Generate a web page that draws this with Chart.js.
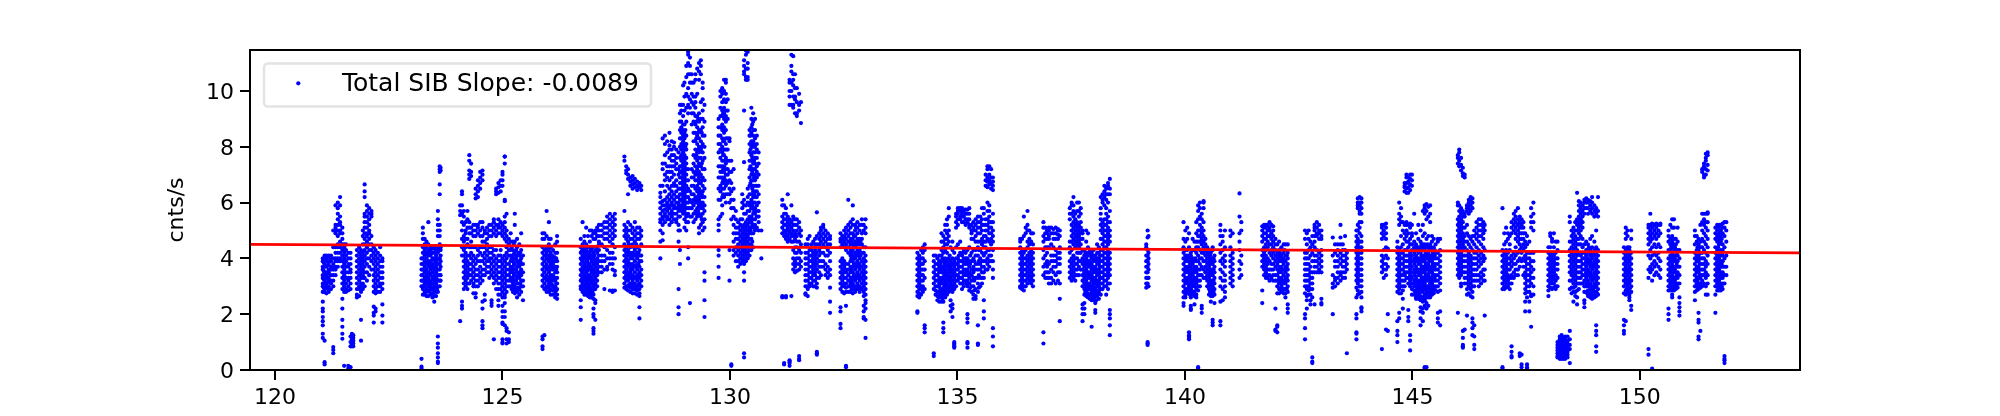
<!DOCTYPE html>
<html>
<head>
<meta charset="utf-8">
<script src="https://cdn.jsdelivr.net/npm/chart.js@4"></script>
<style>
  body { margin: 0; background: #fff; }
  canvas { display: block; }
</style>
</head>
<body>
<canvas id="sibChart" width="2000" height="416"></canvas>
<script>
const obs121 = [
[121.05,2.8,3.0,3.1,3.3,3.4,3.6,3.7,3.9,4.0,2.45,2.2,2.1,1.9,1.75,1.6,1.3,1.15],
[121.09,2.8,2.9,3.1,3.2,3.4,3.5,3.7,3.8,4.0,4.1,.2,.28,1.05],
[121.13,2.75,3.0,3.1,3.3,3.4,3.5,3.7,3.9,4.0,4.1],
[121.18,2.8,3.0,3.2,3.3,3.5,3.6,3.8,3.9,4.1],
[121.23,2.9,3.1,3.2,3.4,3.6,3.7,3.9,4.0,4.1],
[121.28,3.0,3.2,3.4,3.6,3.7,3.8,4.0,.6,.72,.82,4.4,5.0],
[121.33,3.4,3.6,3.7,3.9,4.0,4.2,4.4,4.9,5.0,5.1,5.2,5.9],
[121.38,3.7,3.9,4.0,4.2,4.4,4.5,4.8,5.0,5.2,5.4,5.6,5.8,6.0],
[121.43,3.9,4.0,4.2,4.4,4.6,4.9,5.0,5.2,5.3,5.5,5.9,6.2],
[121.48,2.9,3.1,3.3,3.5,3.7,3.9,4.1,4.3,4.5,4.7,4.9,5.1,2.55,2.2,1.8,1.55,1.3,1.12],
[121.52,2.8,3.0,3.2,3.4,3.6,3.8,4.0,4.2,4.4,4.5,.15],
[121.56,2.8,2.9,3.1,3.3,3.5,3.7,3.9,4.1,4.3,4.5],
[121.61,2.85,3.0,3.2,3.3,3.5,3.7,3.8,4.0,4.2,.15,.05],
[121.66,2.9,3.1,3.3,3.5,3.6,3.8,4.0,4.2,.1,.85,1.0,1.2],
[121.69,.85,.9,1.0,1.1,1.2,1.3],
[121.72,.85,.95,1.05,1.15,1.25],
[121.8,2.6,2.7,2.9,3.1,3.3,3.5,3.7,3.9,4.1,4.3],
[121.85,2.65,2.9,3.0,3.2,3.4,3.6,3.8,4.0,4.2,4.4],
[121.89,2.8,3.0,3.1,3.3,3.5,3.7,3.9,4.1,4.3,1.05,1.8],
[121.93,2.9,3.1,3.3,3.4,3.6,3.8,4.0,4.2,4.5,4.8,5.0],
[121.97,3.0,3.3,3.5,3.7,3.9,4.1,4.3,4.5,4.7,4.9,5.1,5.3,5.5,5.6,6.65,6.4,6.2],
[122.02,3.2,3.5,3.8,4.0,4.2,4.4,4.6,4.8,4.9,5.1,5.3,5.5,5.7,5.9],
[122.07,3.4,3.7,4.0,4.3,4.5,4.7,4.9,5.0,5.2,5.4,5.6,5.8],
[122.12,3.6,3.9,4.1,4.3,4.5,4.8,5.5,5.6,5.7],
[122.17,2.8,3.0,3.2,3.4,3.6,3.8,4.0,4.2,4.4,2.27,2.05,1.95,1.7],
[122.21,2.75,2.9,3.1,3.3,3.5,3.7,3.9,4.1,4.3,2.2,2.1],
[122.26,2.8,3.0,3.2,3.4,3.6,3.8,4.0,4.2],
[122.31,2.8,3.0,3.1,3.3,3.5,3.7,3.9,4.1,4.4],
[122.36,2.9,3.1,3.3,3.5,3.7,3.9,4.0,2.35,1.95,1.7],
];
const obs123 = [
[123.22,3.0,3.2,3.4,3.6,3.8,4.0,.4,.12,.05],
[123.25,2.7,2.9,3.0,3.2,3.4,3.6,3.8,4.0,4.2,4.4,4.7,4.9,5.1],
[123.29,2.7,2.8,3.0,3.1,3.3,3.5,3.7,3.9,4.1,4.3,4.5,4.7],
[123.33,2.65,2.8,2.9,3.1,3.3,3.4,3.6,3.8,4.0,4.2,4.4,4.6],
[123.37,2.65,2.85,3.0,3.2,3.3,3.5,3.7,3.9,4.1,4.3,4.5,5.3],
[123.42,2.7,2.9,3.0,3.2,3.4,3.6,3.7,3.9,4.1,4.3,4.4],
[123.46,2.6,2.75,2.9,3.1,3.3,3.5,3.7,3.8,4.0,4.2,4.4],
[123.5,2.45,2.65,2.8,3.0,3.2,3.4,3.6,3.8,4.0,4.2,4.4],
[123.54,2.65,2.8,3.0,3.1,3.3,3.5,3.7,3.9,4.1,4.3],
[123.58,2.8,3.0,3.2,3.4,3.6,3.8,4.0,4.2,4.4,4.8,5.0,5.2,5.4,5.7,1.2,.95,.8,.6,.45,.3,.25],
[123.62,3.0,3.2,3.4,3.6,3.8,4.0,4.3,4.5,4.8,5.0,5.2,6.3,6.65,7.1,7.2,7.3],
[123.64,3.2,3.4,3.7,3.9,4.1,4.3,4.4,7.15,7.25],
];
const obs124 = [
[124.07,5.55,5.7,5.9,1.75],
[124.11,4.1,4.4,4.7,5.0,5.3,5.6,5.9,6.3,6.4,2.3,2.2,2.45],
[124.15,2.9,3.1,3.3,3.5,3.7,3.9,4.1,4.3,4.6,4.8,5.2,5.5,5.7],
[124.19,3.0,3.2,3.4,3.6,3.8,4.0,4.2,4.4,4.7,4.9,5.0,5.3],
[124.23,2.9,3.1,3.3,3.5,3.7,3.9,4.1,4.5,4.7,5.1,5.4,5.7],
[124.27,3.1,3.4,3.6,3.8,4.1,4.4,4.9,5.1,5.3,6.85,7.0,7.15,7.5,7.7],
[124.31,3.2,3.4,3.6,3.8,4.0,4.2,4.4,4.6,4.9,5.1,6.95,7.1,7.4],
[124.36,2.75,3.0,3.1,3.3,3.5,3.7,3.9,4.1,4.4,4.8,5.0,5.2],
[124.41,2.6,2.75,3.0,3.2,3.4,3.6,3.8,4.0,4.4,4.8,5.0,5.2,6.15,6.3,6.5],
[124.46,3.0,3.2,3.4,3.6,3.9,4.1,4.3,4.9,5.1,5.2,6.2,6.4,6.6,6.8],
[124.51,3.1,3.3,3.5,3.7,3.9,4.2,4.4,4.8,5.0,5.3,6.5,6.7,6.9,7.1],
[124.56,3.2,3.4,3.6,3.9,4.1,4.4,4.6,4.8,5.1,5.3,6.8,7.0,7.15,2.45,2.2,1.75,1.6,1.5],
[124.61,3.4,3.6,3.8,4.0,4.2,4.4,4.6,4.9,5.0,2.7,2.5],
[124.66,3.5,3.7,3.9,4.1,4.3,4.5,4.7,4.9,5.1],
[124.71,3.3,3.5,3.7,3.9,4.0,4.2,4.4,4.8,5.0,5.2],
[124.76,3.4,3.6,3.8,4.0,4.2,4.4,4.8,5.0,5.2,2.5,2.4,2.3],
[124.81,3.1,3.3,3.5,3.7,3.9,4.1,4.3,4.9,5.1,5.3,5.4,1.1],
[124.86,2.9,3.2,3.4,3.6,3.8,4.0,4.3,4.8,5.0,5.2,6.3,6.4,6.5],
[124.91,2.7,2.9,3.1,3.3,3.5,3.7,3.9,4.1,4.9,5.1,5.2,5.4,6.35,6.55,6.7,2.5,2.3],
[124.96,2.7,2.9,3.1,3.3,3.5,3.7,3.9,4.1,4.3,4.9,5.1,5.3,6.4,6.6,6.8],
[125.0,2.6,2.8,3.0,3.2,3.4,3.6,3.8,4.0,4.8,5.0,5.2,6.6,6.8,7.0,7.1,2.3,2.1,1.9,1.7,1.65,1.1,1.0,.95],
[125.05,2.7,2.9,3.1,3.3,3.5,3.7,3.9,4.1,4.7,4.9,5.1,5.3,5.5,6.05,6.1,7.4,7.65,7.65,2.6,2.4,2.1,1.9,1.6],
[125.09,2.8,3.0,3.2,3.4,3.6,3.8,4.0,4.2,4.4,4.6,4.8,5.0,5.6,1.4,1.5,1.1,.95],
[125.14,3.0,3.2,3.4,3.6,3.8,4.1,4.3,4.5,4.7,1.35,1.1,1.0],
[125.18,3.0,3.2,3.3,3.5,3.7,3.9,4.1,4.3,4.6,4.9],
[125.23,2.8,3.0,3.1,3.3,3.5,3.7,3.9,4.1,4.3,4.6],
[125.27,2.75,2.9,3.0,3.2,3.4,3.6,3.8,4.0,4.2,4.6,5.2,5.6],
[125.32,2.6,2.8,2.9,3.1,3.3,3.5,3.7,3.9,4.1,4.4,4.7],
[125.37,2.7,2.9,3.1,3.3,3.5,3.7,3.9,4.1,4.5],
[125.41,2.8,3.0,3.2,3.4,3.6,3.8,4.0,4.3,4.9],
[125.45,2.5,3.0,3.2,3.5,3.8,4.1],
[125.88,3.0,3.2,3.4,3.6,3.8,4.0,4.2,4.4,4.9,4.7,1.2,1.1,.85,.75],
[125.92,2.9,3.1,3.3,3.5,3.7,3.9,4.1,4.3,4.7,4.9,1.25],
[125.97,2.8,3.0,3.2,3.4,3.6,3.8,4.0,4.2,4.4,4.8,5.7],
[126.02,2.8,3.0,3.1,3.3,3.5,3.7,3.9,4.1,4.3,4.5,4.7,5.3],
[126.06,2.7,2.9,3.1,3.2,3.4,3.6,3.8,4.0,4.2,4.4,4.7],
[126.11,2.7,2.85,3.0,3.2,3.4,3.6,3.8,4.0,4.3],
[126.16,2.6,2.75,3.0,3.2,3.3,3.5,3.7,3.9,4.2,4.5],
[126.2,2.55,2.7,2.9,3.1,3.3,3.5,3.7,3.9,4.2,4.6,4.8],
[126.72,2.5,2.9,3.0,3.2,3.4,3.6,3.8,4.0,4.2,4.4,4.7,2.25,1.8],
[126.76,2.8,3.0,3.1,3.3,3.5,3.7,3.9,4.1,4.3,4.5,5.3],
[126.8,2.7,2.9,3.0,3.2,3.4,3.6,3.8,4.0,4.2,4.4,4.6,4.8],
[126.84,2.7,2.8,3.0,3.1,3.3,3.5,3.7,3.9,4.1,4.3,4.5,5.1],
[126.88,2.65,2.8,2.9,3.1,3.3,3.4,3.6,3.8,4.0,4.2,4.4,4.8],
[126.92,2.6,2.8,3.0,3.2,3.4,3.6,3.8,4.0,4.2,4.4,4.6,5.0],
[126.96,2.6,2.7,2.9,3.1,3.3,3.5,3.7,3.9,4.1,4.3,4.8,5.0],
[127.0,2.55,2.7,2.9,3.0,3.2,3.4,3.6,3.8,4.0,4.2,4.7,4.9,2.2,2.0,1.9,1.5,1.4,1.3],
[127.04,2.9,3.1,3.3,3.5,3.7,3.9,4.3,4.7,4.9,5.0,2.5,2.4,1.8],
[127.08,3.2,3.4,3.6,3.8,4.0,4.2,4.4,4.8,5.0,5.1,3.0],
[127.12,3.5,3.7,3.9,4.1,4.3,4.5,4.8,5.0,5.2,4.6],
[127.18,3.5,3.7,3.9,4.1,4.5,4.8,5.0,5.2],
[127.24,3.6,3.9,4.1,4.4,4.7,4.9,5.1,5.3,2.9],
[127.3,3.6,3.7,4.0,4.3,4.7,4.9,5.1,5.3,5.5],
[127.36,3.8,4.0,4.2,4.6,4.8,5.0,5.2,5.4,5.6,2.85],
[127.42,3.6,3.8,4.0,4.2,4.5,4.7,4.9,5.1,5.3,5.5,2.85,2.8],
[127.47,3.4,3.55,4.0,4.4,4.8,5.0,5.2,5.4,5.6,2.85],
];
const obs127 = [
[127.68,2.95,3.1,3.3,3.5,3.7,3.9,4.1,4.3,4.5,4.8,5.0,5.2,5.7,7.65,7.5],
[127.72,2.9,3.0,3.2,3.4,3.6,3.8,4.0,4.2,4.4,4.7,4.9,5.1,7.3,7.15,7.05],
[127.76,2.85,3.0,3.2,3.3,3.5,3.7,3.9,4.1,4.3,4.6,4.8,5.0,5.3,7.2,7.0,6.85,6.3],
[127.81,2.8,2.95,3.1,3.3,3.5,3.6,3.8,4.0,4.2,4.4,4.7,5.0,5.2,6.9,6.75,6.6],
[127.86,2.75,2.9,3.1,3.2,3.4,3.6,3.8,4.0,4.2,4.5,4.7,4.9,5.1,6.95,6.8,6.65,6.5],
[127.91,2.75,2.9,3.1,3.3,3.5,3.7,3.9,4.1,4.3,4.6,4.8,5.0,5.3,6.85,6.7,6.55],
[127.96,2.7,2.85,3.0,3.2,3.4,3.6,3.8,4.0,4.2,4.4,4.7,4.9,5.1,6.75,6.6,6.45],
[128.01,2.75,2.9,3.1,3.3,3.5,3.7,3.9,4.1,4.3,4.7,4.9,5.1,2.65,2.25,1.85,6.7,6.55],
[128.05,3.0,3.2,3.4,3.6,3.9,4.1,4.5,4.8,5.0,6.6,6.45],
];
const obs128 = [
[128.47,4.0,4.6,5.0,5.3,5.4,5.6,5.8,6.0,6.2,6.35,6.6],
[128.52,4.65,4.9,5.2,5.4,5.5,5.7,5.9,6.05,6.6,7.2,7.4,8.3],
[128.57,5.3,5.5,5.6,5.75,5.9,6.1,6.4,6.8,7.0,7.4,7.7,8.1,8.4],
[128.62,5.4,5.5,5.7,5.8,5.9,6.0,6.2,6.6,6.9,7.1,7.3,7.8,8.2],
[128.67,5.2,5.4,5.6,5.8,5.9,6.1,6.3,6.5,6.8,7.1,7.3,7.6,7.9,8.05,8.5],
[128.72,5.3,5.5,5.6,5.7,5.9,6.0,6.2,6.4,6.6,6.9,7.1,7.3,7.5,7.7,7.9,8.2],
[128.77,5.4,5.6,5.8,5.9,6.1,6.3,6.6,6.7,7.0,7.3,7.5,7.7,8.0,8.15],
[128.82,5.3,5.4,5.6,5.8,6.0,6.2,6.4,6.6,6.8,7.2,7.4,7.6,7.9],
[128.87,4.6,5.0,5.2,5.5,5.7,5.9,6.0,6.2,6.5,7.0,7.2,7.8,2.9,2.25,2.0],
[128.9,3.8,4.3,5.0,5.5,5.8,6.1,6.3,6.5,6.7,6.9,7.1,7.3,7.6,8.0,8.3,8.6,8.9,9.2,9.5],
[128.93,5.7,5.9,6.1,6.3,6.5,6.7,6.9,7.1,7.3,7.5,7.7,7.9,8.1,8.3,8.5,8.7,8.9,9.3,9.5],
[128.97,5.6,5.8,6.0,6.2,6.4,6.6,6.8,7.0,7.2,7.4,7.6,7.8,8.0,8.2,8.4,8.6,8.8,9.1,9.5,10.2],
[129.0,5.1,5.4,5.7,5.9,6.1,6.3,6.5,6.7,6.9,7.1,7.3,7.5,7.7,7.9,8.1,8.3,8.5,8.8,9.3,9.8,10.3],
[129.04,5.0,5.3,5.5,5.8,6.0,6.2,6.4,6.6,6.8,7.0,7.2,7.4,7.6,7.9,8.1,8.4,8.9,9.4,9.9,10.5,10.9],
[129.08,4.0,4.4,5.3,5.6,5.8,6.0,6.2,6.5,6.8,7.2,9.2,9.5,9.8,10.1,10.6,11.0,11.3,11.4],
[129.12,2.4,5.5,5.8,6.1,6.4,9.4,9.7,10.3,10.6,10.9,11.2],
[129.16,5.5,5.8,6.0,6.3,6.6,6.9,7.2,8.8,9.2,9.6,9.9,10.3,10.6],
[129.2,5.3,5.6,5.9,6.1,6.3,6.6,6.9,7.1,7.4,7.7,8.2,8.5,8.9,9.2,9.5,9.8,10.3],
[129.24,5.4,5.7,6.0,6.2,6.5,6.8,7.0,7.3,7.6,7.9,8.2,8.5,8.8,9.1,9.4,9.6,9.8,10.4,10.6],
[129.28,5.5,5.8,6.0,6.2,6.4,6.6,6.8,7.0,7.2,7.5,7.8,8.1,8.4,8.7,9.1,9.9,10.8],
[129.32,4.9,5.1,5.6,5.9,6.1,6.3,6.5,6.7,6.9,7.1,7.4,7.6,7.8,8.0,8.3,8.6,8.9,9.2,10.4,10.7,11.0],
[129.36,5.2,5.5,5.8,6.0,6.2,6.4,6.7,7.0,7.3,7.6,7.9,8.2,8.6,9.0,9.6,10.6,10.9,11.1],
[129.4,5.0,5.3,5.6,5.8,6.0,6.2,6.4,6.6,6.9,7.2,7.5,7.8,8.1,8.4,8.7,9.0,9.3,9.7,10.1,10.3],
[129.44,5.1,5.4,5.7,5.9,6.2,6.5,6.8,7.2,7.6,8.0,8.4,8.9,9.5,3.2,3.5,1.9,2.5],
[129.75,5.0,5.2,5.4,6.1,6.5,6.9,7.3,7.8,8.1,8.4,8.7,9.0,4.3,4.1,3.7,3.3],
[129.79,5.5,6.1,6.4,6.6,6.9,7.1,7.3,7.6,7.9,8.1,8.4,8.7,9.1,9.4,9.8,10.0],
[129.83,5.6,5.9,6.2,6.5,6.7,6.9,7.1,7.3,7.5,7.8,8.0,8.3,8.6,8.8,9.1,9.3,9.6,9.9,10.1],
[129.87,6.2,6.5,6.7,6.9,7.1,7.3,7.5,7.7,7.9,8.2,8.5,8.7,9.0,9.2,9.4,9.7,10.0,10.4],
[129.91,6.0,6.3,6.6,6.8,7.0,7.2,7.4,7.6,7.9,8.1,8.3,8.6,8.9,9.1,9.3,9.6,9.9,10.3,10.4],
[129.95,6.3,6.7,7.0,7.2,7.5,7.9,8.3,9.0,9.3,9.7],
[129.99,6.0,6.3,6.5,6.8,7.1,7.5,8.2,8.3,4.3,3.2],
[130.03,5.4,5.8,6.1,6.4,6.7,7.1,7.5,.2,.15],
[130.08,4.1,4.3,4.6,4.9,5.2,5.5,5.8,6.1,6.5,7.2],
[130.13,3.9,4.2,4.4,4.7,4.9,5.1,5.4,5.7],
[130.18,3.7,3.9,4.1,4.3,4.5,4.7,4.9,5.1,5.3],
];
const obs130 = [
[130.23,3.8,4.0,4.2,4.4,4.6,4.8,5.0,5.2,5.4],
[130.27,3.9,4.1,4.3,4.5,4.7,4.9,5.1,5.4,5.8,6.0,6.3],
[130.31,3.2,3.5,3.8,4.0,4.2,4.4,4.6,4.8,5.0,5.2,5.6,5.9,6.1,.6,.45,10.6,10.7,10.9,11.1,9.3,7.45],
[130.35,3.9,4.1,4.3,4.5,4.7,4.9,5.1,5.3,5.6,5.9,10.4,10.5,10.8,11.3,11.45],
[130.39,4.0,4.2,4.4,4.6,4.8,5.0,5.2,5.4,5.7,6.0,6.2,6.5,10.4,10.5,10.8,11.0,11.4],
[130.43,4.1,4.3,4.5,4.7,4.9,5.1,5.3,5.5,5.7,5.9,6.3,6.6,6.9,7.2,7.5,7.8,8.1,8.4,8.6],
[130.47,4.3,4.5,4.7,4.9,5.1,5.3,5.5,5.8,6.1,6.3,6.6,6.8,7.0,7.2,7.5,7.7,8.0,8.2,8.5,8.7,9.0,9.4],
[130.51,4.4,4.9,5.2,5.4,5.6,5.8,6.0,6.2,6.4,6.6,6.8,7.0,7.2,7.4,7.6,7.8,8.0,8.2,8.4,8.6,8.9,9.2],
[130.55,5.0,5.2,5.4,5.6,5.8,6.0,6.2,6.4,6.6,6.8,7.0,7.2,7.4,7.6,7.8,8.0,8.3,8.6,9.0],
[130.59,5.1,5.5,5.7,5.9,6.2,6.4,6.6,6.9,7.1,7.3,7.6,7.9,8.1,8.4],
[130.63,5.0,5.3,5.5,5.7,6.0,6.3,6.6,7.0,7.4,7.8],
[130.69,5.0,4.0],
[131.15,4.9,5.1,5.3,5.5,5.9,6.1,2.65,2.6],
[131.19,4.8,5.0,5.2,5.4,5.6,5.9,.2,.25],
[131.23,4.7,4.9,5.0,5.2,5.4,5.6,5.8,2.65,2.6],
[131.27,4.6,4.8,5.0,5.1,5.3,5.5,6.3],
[131.31,4.7,4.9,5.0,5.2,5.4,9.5,9.8,10.0,10.3,10.4,.3,.25,.15,.35],
[131.35,4.6,4.8,4.9,5.1,5.3,5.9,11.3,10.9,10.7,10.3,10.0,9.5,2.65],
[131.39,3.6,3.8,4.0,4.3,4.6,4.8,5.0,5.2,5.4,5.5,11.25,10.6,10.4,10.2,9.8,9.5,9.4],
[131.43,3.5,3.7,3.9,4.2,4.4,4.7,4.9,5.2,5.4,10.6,10.1,9.8,9.7,9.2],
[131.47,3.55,3.8,4.0,4.2,4.4,4.6,4.8,5.0,5.2,5.4,10.1,9.6,9.1,9.2],
[131.52,3.6,3.8,4.0,4.3,4.6,4.9,5.1,5.3,9.9,9.5,9.3,.5,.35,.4],
[131.56,3.7,3.9,4.2,4.5,4.8,5.0,9.6,8.85],
[131.66,3.0,3.2,3.4,3.6,3.8,4.0,4.2,4.5,2.75,2.7],
[131.71,2.9,3.0,3.2,3.4,3.6,3.8,4.0,4.2,4.5,4.7,2.65],
[131.75,3.0,3.1,3.3,3.5,3.7,3.9,4.1,4.3,4.8],
[131.79,3.1,3.3,3.5,3.7,3.9,4.1,4.3,4.5],
[131.83,3.0,3.2,3.4,3.6,3.8,4.0,4.2,4.6],
[131.87,3.0,3.2,3.4,3.5,3.7,3.9,4.1,4.3,4.5,4.7],
[131.91,2.95,3.1,3.3,3.6,3.8,4.0,4.2,4.5,4.8,5.65,.65,.55,.6],
[131.96,3.3,3.5,3.7,3.9,4.1,4.3,4.5,4.7,4.9],
[132.0,3.4,3.7,3.9,4.2,4.4,4.6,4.8,5.0,5.1],
[132.05,3.7,3.9,4.2,4.5,4.7,4.9,5.1,5.2],
[132.1,3.4,3.6,3.8,4.1,4.4,4.6,4.8,5.0],
[132.15,3.3,3.5,3.7,4.1,4.3,4.5,4.7,4.9],
[132.2,3.4,3.6,3.9,4.2,4.5,4.7,4.8,2.95,2.05,2.45],
[132.43,2.9,3.1,3.3,3.5,3.7,3.9,4.4,4.6,4.7,4.9,2.25,2.1,1.5,1.65],
[132.47,2.8,3.0,3.2,3.4,3.6,3.8,4.0,4.5,4.7,4.8],
[132.51,2.75,3.0,3.1,3.3,3.5,3.7,3.9,4.4,4.6,4.8,5.0],
[132.55,2.8,2.95,3.1,3.3,3.5,3.6,3.8,4.3,4.5,4.7,4.9,5.1,.15,.1,2.3],
[132.6,2.8,3.0,3.2,3.4,3.6,3.8,4.2,4.4,4.6,4.8,5.0,5.2,6.1],
[132.65,2.8,3.0,3.1,3.3,3.5,3.7,3.9,4.1,4.3,4.5,4.7,4.9,5.1,5.3],
[132.7,2.75,2.9,3.1,3.3,3.5,3.7,3.9,4.1,4.3,4.5,4.7,4.9,5.2,5.4,5.9],
[132.75,2.8,3.0,3.2,3.4,3.6,3.8,4.0,4.2,4.4,4.6,4.8,5.0,5.2],
[132.8,2.9,3.1,3.3,3.5,3.7,3.9,4.1,4.3,4.5,4.7,4.9,5.1,5.3],
[132.85,2.8,3.0,3.2,3.4,3.6,3.8,4.0,4.3,4.5,4.7,5.0,5.2],
[132.9,2.9,3.1,3.3,3.5,3.7,3.9,4.2,4.5,4.7,4.9,5.2,5.4],
[132.94,2.65,2.8,3.0,3.2,3.4,3.6,3.8,4.0,4.2,4.4,5.0,5.2,2.3,2.1,1.85,1.9],
[132.98,2.5,2.7,2.9,3.1,3.3,3.5,3.7,3.9,4.1,4.4,4.9,5.1,5.4,2.4,2.2,1.8,1.15],
];
const obs134 = [
[134.12,2.65,2.8,3.0,3.2,3.4,3.6,3.8,4.0,4.2,2.1,2.05],
[134.16,2.6,2.75,2.9,3.1,3.3,3.5,3.7,3.9,4.1],
[134.2,2.7,2.9,3.0,3.2,3.4,3.6,3.8,4.0,4.3],
[134.24,2.8,3.0,3.2,3.4,3.6,3.8,4.0,4.2,4.4],
[134.28,2.9,3.3,3.6,3.9,4.3,4.5,1.6,1.5,1.35],
[134.48,2.9,3.1,3.3,3.5,3.7,3.9,4.1,.6,.5],
[134.52,2.7,2.85,3.0,3.2,3.4,3.6,3.8,4.1],
[134.56,2.5,2.65,2.8,3.0,3.2,3.4,3.6,3.8,4.0],
[134.6,2.45,2.6,2.8,3.0,3.1,3.3,3.5,3.7,3.9,4.1],
[134.65,2.45,2.65,2.9,3.1,3.3,3.5,3.7,3.9,4.1,4.3,4.6,4.9],
[134.69,2.45,2.7,2.9,3.1,3.3,3.5,3.7,3.9,4.2,4.4,4.6,4.8,1.7,1.5,1.35],
[134.73,2.6,2.8,3.0,3.2,3.4,3.6,3.8,4.0,4.3,4.5,4.7,5.0,5.2],
[134.77,2.7,2.9,3.1,3.3,3.5,3.7,3.9,4.2,4.5,4.7,4.9,5.2,5.4],
[134.81,2.8,3.0,3.2,3.4,3.6,3.8,4.0,4.6,4.8,5.0,5.5,5.8],
[134.85,2.85,3.0,3.1,3.3,3.5,3.7,3.9,4.4,2.5,2.1,2.3],
[134.89,2.8,3.0,3.2,3.4,3.6,3.8,4.0,4.3,4.6,2.2,1.9,2.35],
[134.93,2.9,3.1,3.3,3.5,3.7,3.9,4.2,1.0,.9,.8,.85,.95],
[134.97,3.0,3.2,3.4,3.6,3.8,4.0,4.4,5.1,5.3,5.5,5.6],
[135.01,3.2,3.4,3.6,3.8,4.0,4.5,5.2,5.4,5.6,5.7,5.8],
[135.06,3.1,3.3,3.5,3.7,3.9,4.2,4.6,5.4,5.5,5.7,5.8],
[135.1,2.9,3.1,3.3,3.5,3.7,3.9,4.1,5.3,5.5,5.6,5.8],
[135.14,3.0,3.2,3.4,3.6,3.8,4.0,4.3,5.3,5.5,5.7,5.75],
[135.18,3.2,3.4,3.6,3.8,4.0,4.2,5.2,5.4,5.6,5.75],
[135.22,3.0,3.2,3.4,3.6,3.8,4.0,4.3,5.3,5.4,5.6,5.75,2.0,1.85,1.7,1.0,.95,.8],
[135.26,2.85,3.1,3.3,3.5,3.7,3.9,4.4,5.1,5.2,5.4,5.6,5.8],
[135.31,2.8,3.0,3.2,3.4,3.6,3.9,4.2,4.7,4.9,5.0,5.2],
[135.35,2.55,2.7,3.0,3.3,3.5,3.7,4.0,4.3,4.7,5.0,5.1,5.3],
[135.4,2.55,2.65,2.9,3.3,3.6,3.8,4.1,4.3,4.6,4.8,5.0,5.2,5.4],
[135.45,2.8,3.1,3.3,3.6,3.8,4.1,4.4,4.6,4.9,5.1,5.3,5.5,1.6,.9,.95],
[135.5,3.0,3.3,3.6,3.8,4.0,4.3,4.6,4.9,5.1,5.3,5.5],
[135.54,3.1,3.3,3.5,3.7,3.9,4.2,4.5,4.7,5.0,5.2,5.4,5.8],
[135.58,3.3,3.5,3.7,3.9,4.1,4.4,4.6,4.8,5.2,5.6,5.8,1.85,2.1,2.5],
[135.62,3.6,3.9,4.2,4.4,4.6,4.8,5.0,5.2,5.4,7.0,6.8,6.6],
[135.66,3.6,3.8,4.0,4.3,4.7,5.0,5.2,5.4,5.7,7.3,7.2,6.9,6.75,6.55,6.0],
[135.7,3.7,3.9,4.1,4.3,4.6,4.9,5.1,5.3,5.5,5.7,7.3,7.0,6.8,6.65,5.9],
[135.74,3.9,4.1,4.5,4.7,4.9,5.1,5.3,7.2,6.9,6.7,6.5],
[135.78,3.6,3.9,4.3,4.6,4.8,5.0,5.3,5.6,6.9,6.75,6.6,6.45,3.3,1.5,1.2,.85],
];
const obs136 = [
[136.38,3.0,3.2,3.4,3.6,3.8,4.0,4.2,4.4,4.6,4.7,2.95],
[136.42,2.9,3.1,3.3,3.5,3.7,3.9,4.1,4.3,4.7],
[136.46,2.85,3.0,3.2,3.4,3.6,3.8,4.0,4.2,5.5,4.8],
[136.5,3.0,3.2,3.4,3.6,3.8,4.0,4.3,4.9,5.1],
[136.54,3.1,3.3,3.5,3.7,3.9,4.1,4.4,4.6,5.0,5.2,5.7],
[136.58,3.2,3.4,3.6,3.8,4.0,4.2,4.5,4.7,5.0],
[136.62,3.1,3.3,3.5,3.7,3.9,4.1,4.3,4.6,4.9],
[136.66,3.0,3.2,3.4,3.6,3.8,4.0,4.2,4.5,4.9],
[136.89,3.4,3.7,4.0,4.3,4.6,4.8,5.1,5.3,1.35,.95],
[136.93,3.3,3.5,3.8,4.1,4.4,4.7,4.9,5.1],
[136.97,3.3,3.5,3.7,3.9,4.2,4.4,4.7,4.9,5.0],
[137.01,3.1,3.3,3.5,3.8,4.4,4.7,4.8,5.0,5.1],
[137.06,3.1,3.3,3.6,3.9,4.1,4.5,4.9,5.1],
[137.11,3.2,3.5,3.7,3.9,4.1,4.4,4.7,4.9,5.05],
[137.16,3.1,3.4,3.7,3.9,4.1,4.3,4.7,4.9,5.1],
[137.21,3.2,3.5,3.8,4.0,4.2,4.7,4.85,5.0,5.05],
[137.25,3.1,3.5,3.8,4.0,4.2,4.4,4.8,5.0,2.55,1.75],
[137.47,3.3,3.5,3.7,3.9,4.2,4.4,4.6,5.4,5.6,5.8],
[137.51,3.2,3.4,3.6,3.8,4.0,4.3,4.6,4.8,5.0,5.2,5.6,5.9,6.0],
[137.55,3.3,3.5,3.7,3.9,4.1,4.5,4.7,4.9,5.1,5.3,5.5,5.7,5.9,6.2],
[137.59,3.2,3.4,3.6,3.8,4.0,4.4,4.6,4.8,5.0,5.2,5.4,5.6],
[137.63,3.4,3.6,3.8,4.0,4.2,4.5,4.7,4.9,5.1,5.3,5.7,6.0],
[137.67,3.4,3.7,3.9,4.2,4.4,4.6,4.8,5.0,5.2,5.5,5.7,6.0],
[137.71,3.6,3.9,4.2,4.5,4.7,4.9,5.1,5.3,5.6,5.8],
[137.75,3.0,3.2,3.4,3.6,3.8,4.0,4.3,4.7,4.9,5.0,2.35,2.2,2.0,1.75],
[137.79,2.7,2.9,3.1,3.3,3.5,3.7,3.9,4.1,4.3,2.4,2.2,2.0],
[137.83,2.65,2.85,3.0,3.2,3.4,3.6,3.8,4.0,4.2,4.6,5.0],
[137.87,2.6,2.75,2.9,3.1,3.3,3.5,3.7,3.9,4.1,4.4,4.9],
[137.91,2.55,2.7,2.9,3.1,3.3,3.5,3.7,3.9,4.1,4.3],
[137.95,2.5,2.65,2.8,3.0,3.2,3.4,3.6,3.8,4.0,4.2,1.55],
[137.99,2.5,2.6,2.8,3.0,3.1,3.3,3.5,3.7,3.9,4.1,4.3],
[138.03,2.4,2.5,2.7,2.9,3.1,3.3,3.5,3.7,3.9,4.1,2.15,2.05],
[138.07,2.65,2.85,3.0,3.2,3.4,3.6,3.8,4.0,4.2,4.5],
[138.11,2.55,2.8,3.0,3.2,3.4,3.6,3.8,4.0,4.2,4.4],
[138.15,2.7,2.9,3.1,3.3,3.5,3.7,3.9,4.1,4.3,4.7,5.0,5.2,5.4,5.6,5.8,6.2],
[138.19,2.9,3.1,3.3,3.5,3.7,3.9,4.1,4.3,4.5,4.7,4.9,5.1,5.3,6.0,6.1,6.3],
[138.23,3.0,3.2,3.4,3.6,3.8,4.0,4.2,4.4,4.6,4.8,5.0,5.2,5.4,5.9,6.2,6.4,6.6],
[138.27,2.7,3.0,3.2,3.4,3.6,3.8,4.0,4.2,4.4,4.6,4.8,5.0,5.2,5.4,5.6,5.8,6.1,6.3,6.5],
[138.31,2.9,3.1,3.3,3.5,3.7,3.9,4.1,4.3,4.5,4.7,4.9,5.1,5.3,5.5,6.0,6.3,6.6,6.7],
[138.35,3.1,3.4,3.6,3.8,4.0,4.2,4.6,4.8,5.0,5.3,5.7,6.3,6.5,6.85,2.15,2.0,1.85,1.6,1.25],
[139.15,2.95,3.1,3.3,3.5,3.7,3.9,4.1,4.4,4.5],
[139.18,3.0,3.1,3.3,3.5,3.7,3.9,4.1,4.3,1.0,.95,.9,4.75,5.0],
[139.2,3.0,3.3,3.6,3.8,4.0,4.2,4.8],
];
const obs140 = [
[139.97,2.3,2.4,2.6,2.8,3.0,3.2,3.4,3.6,3.8,4.0,4.2,4.4,4.7,5.3],
[140.01,2.6,2.7,2.9,3.1,3.3,3.5,3.7,3.9,4.1,4.3,4.6,5.0],
[140.05,2.75,2.9,3.1,3.3,3.5,3.7,3.9,4.1,4.3,4.7,5.1],
[140.09,2.8,3.0,3.1,3.3,3.5,3.7,3.9,4.1,4.4,4.9,1.15,1.25,1.35,1.1,1.2],
[140.13,2.6,2.75,2.9,3.1,3.3,3.5,3.7,3.9,4.1,4.2,2.3,2.15,2.2],
[140.17,2.7,2.8,3.0,3.2,3.4,3.6,3.8,4.0,4.3,4.7],
[140.21,2.65,2.8,3.0,3.1,3.3,3.5,3.7,3.9,4.3,4.6,2.35],
[140.25,2.6,2.7,2.9,3.1,3.3,3.5,3.7,3.9,4.2,4.4,4.6,4.9,5.3],
[140.29,2.85,3.0,3.2,3.4,3.6,3.9,4.1,4.4,4.6,4.8,5.0,5.4,5.7,5.9,.1,.05],
[140.33,3.0,3.2,3.4,3.6,3.8,4.0,4.3,4.6,4.8,5.0,5.2,5.5,5.8,6.0],
[140.37,3.4,3.7,4.0,4.2,4.5,4.7,4.9,5.1,5.4,5.6,2.2,2.3,2.05],
[140.41,3.3,3.6,3.9,4.2,4.4,4.6,4.8,5.0,5.3,5.8,6.0,6.05],
[140.45,3.3,3.5,3.7,3.9,4.1,4.3,4.5,4.7],
[140.49,3.0,3.2,3.4,3.6,3.8,4.0,4.2,4.4],
[140.53,2.7,2.9,3.1,3.3,3.5,3.7,3.9,4.1,4.3],
[140.57,2.65,2.8,3.0,3.2,3.4,3.6,3.8,4.0,4.2,2.45],
[140.61,2.65,2.9,3.0,3.2,3.4,3.6,3.8,4.0,4.3,4.4,1.6,1.7,1.8],
[140.65,2.7,2.9,3.1,3.3,3.5,3.7,3.9,4.1,2.4],
[140.78,2.45,3.0,3.3,3.6,3.9,4.2,4.5,4.8,5.0,5.2,1.75,1.6],
[140.83,2.5,2.9,3.2,3.5,3.8,4.0,4.3,4.6,4.8],
[140.88,2.6,2.8,3.0,3.2,3.4,3.7,3.9,4.1,4.4,5.0],
[141.0,3.1,3.3,3.5,3.7,3.9,4.1,4.4,5.0,4.8],
[141.05,3.0,3.2,3.4,3.6,3.8,4.0,4.2,4.9],
[141.2,3.3,3.6,3.9,4.3,4.6,4.9,5.5,6.33],
[141.24,3.4,3.8,4.1,5.3,5.0],
[141.7,2.4,2.85,3.7,3.9,4.1,4.3,4.6,4.8,5.0,5.15],
[141.74,3.4,3.6,3.8,4.0,4.2,4.4,4.7,4.9,5.1,5.2],
[141.78,3.3,3.5,3.7,3.9,4.1,4.3,4.5,4.7,4.9,5.1,5.2],
[141.82,3.3,3.4,3.6,3.8,4.0,4.4,4.6,4.8,5.0,5.2],
[141.86,3.2,3.4,3.6,3.9,4.2,4.5,4.8,5.0,5.1,5.3],
[141.9,3.3,3.6,3.8,4.1,4.3,4.5,4.7,4.9,5.2],
[141.94,3.2,3.4,3.6,3.8,4.0,4.2,4.4,4.6,4.8,5.0,5.15],
[141.99,3.2,3.4,3.7,3.9,4.1,4.3,4.5,4.7,1.45,1.4,2.2],
[142.03,2.75,3.0,3.2,3.4,3.6,3.8,4.0,4.2,4.5,1.35,1.55,1.6],
[142.07,2.75,2.9,3.1,3.3,3.5,3.7,3.9,4.1,4.3,4.6],
[142.12,2.8,3.0,3.1,3.3,3.5,3.7,3.9,4.1,4.4],
[142.17,2.75,2.9,3.1,3.2,3.4,3.6,3.8,4.0,4.2,4.5],
[142.21,2.75,2.9,3.1,3.3,3.5,3.7,3.9,4.1,4.5,2.6],
[142.26,2.8,3.0,3.2,3.4,3.6,3.8,4.0,4.2,4.5,2.2,2.35,2.05],
[142.64,2.75,3.0,3.2,3.4,3.6,3.8,4.0,4.2,4.7,5.0,2.0,1.85,1.5,1.1],
[142.68,2.65,2.9,3.0,3.2,3.4,3.6,3.8,4.0,4.2,4.5,4.9,2.5,2.2],
[142.72,2.7,2.85,3.0,3.2,3.4,3.6,3.8,4.0,4.3,4.7,5.0],
[142.76,2.5,2.7,2.9,3.1,3.3,3.5,3.7,4.1,4.4,4.6,2.35],
[142.8,2.6,2.9,3.1,3.3,3.5,3.9,4.2,4.5,4.8,.3,.25,.45],
[142.85,3.5,3.7,3.9,4.1,4.4,4.6,4.8,5.0,5.1,5.2,2.35],
[142.9,3.5,3.7,3.9,4.1,4.3,4.8,4.9,5.1,5.3],
[142.95,3.5,3.6,3.8,4.0,4.2,4.7,4.9,5.0,5.2],
[143.0,3.5,3.7,3.9,4.1,4.3,4.7,4.8,5.0,2.55,2.35,2.4],
[143.25,2.95,3.1,3.4,4.1,4.75,2.0],
[143.3,3.0,3.2,3.3,3.7,3.9,4.2,4.5],
[143.36,3.1,3.3,3.5,3.7,3.9,4.1,4.3,4.5],
[143.42,3.2,3.4,3.5,3.8,4.0,4.2,4.5,4.75,5.2],
[143.47,3.3,3.5,3.7,3.9,4.1,4.3,4.5],
[143.52,3.3,3.5,3.7,3.9,4.1,4.3,4.8],
[143.56,3.6,3.8,4.0,4.2,.6],
];
const obs143 = [
[143.77,2.95,3.2,3.4,3.6,3.8,4.0,4.2,4.4,4.6,4.8,5.0,2.0,1.85,1.1,1.3,1.35,2.6],
[143.8,2.7,2.85,3.1,3.3,3.5,3.7,3.9,4.1,4.3,4.5,4.7,5.0,5.2,5.8,5.9,6.0,6.15],
[143.84,2.75,3.0,3.2,3.4,3.6,3.8,4.0,4.2,4.4,4.6,4.9,5.1,5.3,5.6,5.7,5.9,6.0,6.2],
[143.88,2.6,2.8,3.0,3.2,3.4,3.6,3.8,4.0,4.2,4.4,4.6,4.8,5.3,5.6,5.8,6.0,6.15,2.2,2.25,2.1],
[144.33,3.5,3.7,3.9,4.1,4.7,4.9,5.1,5.2,.75],
[144.37,3.3,3.6,3.8,4.0,4.3,4.8,5.0,5.2],
[144.42,3.4,3.6,3.8,4.1,4.4,4.7,4.9,5.1,5.25,1.45],
[144.46,3.7,4.0,4.3,4.35,2.0,1.4],
[144.67,2.8,3.0,3.2,3.4,3.6,3.8,4.0,4.2,4.4,4.6,1.75,1.4,1.25,1.0],
[144.71,2.75,2.9,3.1,3.3,3.5,3.7,3.9,4.1,4.3,5.2,5.4,5.6,6.0,1.85,2.05],
[144.75,2.75,3.0,3.2,3.4,3.6,3.8,4.0,4.2,4.4,5.3,5.5,5.8,4.8],
[144.79,2.85,3.0,3.2,3.4,3.6,3.8,4.0,4.2,4.5,5.3,5.0,2.55,2.2],
[144.83,3.0,3.2,3.4,3.5,3.7,3.9,4.1,4.3,4.7,4.9,5.2,6.4,6.55,6.6,6.7],
[144.87,3.3,3.5,3.7,3.9,4.1,4.3,4.6,4.8,5.0,5.2,5.3,6.35,6.5,6.7,6.9,7.0],
[144.91,3.1,3.3,3.5,3.7,3.9,4.1,4.4,4.6,4.9,5.2,6.35,6.55,6.75,6.9,1.9,1.75,2.15],
[144.95,3.0,3.2,3.4,3.6,3.8,4.0,4.2,4.5,4.7,5.1,5.25,6.45,6.65,6.85,7.0,1.05,1.25,.7],
[144.99,2.7,2.9,3.1,3.3,3.5,3.7,3.9,4.1,4.3,4.5,4.8,5.2,6.6,6.8,7.0,4.9],
[145.04,2.7,2.85,3.0,3.2,3.4,3.6,3.8,4.0,4.2,4.4,4.6,5.6],
[145.08,2.6,2.8,3.0,3.1,3.3,3.5,3.7,3.9,4.1,4.3,4.5,4.9,2.55],
[145.13,2.55,2.7,2.9,3.0,3.2,3.4,3.6,3.8,4.0,4.2,4.4,4.7,5.2],
[145.18,2.5,2.65,2.8,3.0,3.2,3.4,3.6,3.8,4.0,4.2,4.4,4.6,5.0,2.25,2.1,1.85,1.6],
[145.23,2.45,2.6,2.8,3.0,3.1,3.3,3.5,3.7,3.9,4.1,4.3,4.5,4.8,5.2,5.7,2.2,2.05,1.75],
[145.27,2.3,2.5,2.7,2.9,3.1,3.3,3.5,3.7,3.9,4.1,4.3,4.5,4.9,5.6,5.8,5.9,.1,.05],
[145.31,2.2,2.4,2.6,2.8,3.0,3.2,3.4,3.6,3.8,4.0,4.2,4.4,4.7,5.4,5.7,5.95,.1],
[145.35,2.3,2.6,2.75,3.0,3.2,3.4,3.6,3.8,4.0,4.2,4.4,4.8,5.5,5.85],
[145.39,2.6,2.8,2.9,3.1,3.3,3.5,3.7,3.9,4.1,4.3,4.5,5.3,5.6,5.9],
[145.43,2.7,2.9,3.1,3.3,3.5,3.7,3.9,4.1,4.3,4.6,4.8],
[145.47,2.75,2.9,3.0,3.2,3.4,3.6,3.8,4.0,4.2,4.4,4.7],
[145.51,2.85,3.0,3.2,3.4,3.6,3.8,4.0,4.2,4.5],
[145.56,2.8,3.0,3.2,3.4,3.6,3.8,4.0,4.2,4.6,4.7,2.05,1.85,1.7],
[145.61,2.85,3.1,3.3,3.5,3.7,3.9,4.1,4.3,4.7,2.1,1.6],
];
const obs146 = [
[146.0,3.4,3.6,3.8,4.0,4.2,4.4,4.6,4.8,5.0,5.2,5.4,5.9,6.0,7.4,7.6,7.7,2.05],
[146.03,3.3,3.5,3.7,3.9,4.1,4.3,4.5,4.7,4.9,5.1,5.3,5.5,5.7,5.9,7.3,7.5,7.8,7.9],
[146.07,3.4,3.6,3.8,4.0,4.2,4.4,4.6,4.8,5.0,5.2,5.4,5.6,5.8,7.15,7.35,7.6,3.1,3.0],
[146.11,3.5,3.7,3.9,4.1,4.3,4.5,4.7,4.9,5.1,5.3,5.5,5.7,6.95,7.05,7.25,1.4,1.15,.9,.85,.8],
[146.15,3.1,3.3,3.5,3.7,3.9,4.1,4.4,4.6,4.8,5.1,5.5,5.6,6.9,7.0,1.45],
[146.2,2.7,2.9,3.1,3.3,3.5,3.7,3.9,4.1,4.3,4.6,4.9,5.2,5.7,5.8,5.9,1.95],
[146.24,2.75,3.0,3.2,3.4,3.6,3.8,4.0,4.2,4.5,4.8,5.6,5.8,6.0,6.1],
[146.28,2.65,2.9,3.1,3.3,3.5,3.7,3.9,4.1,4.4,4.7,5.7,5.9,6.1,6.2],
[146.32,2.6,2.8,3.0,3.2,3.4,3.6,3.8,4.0,4.3,4.6,4.8,5.8,6.0,6.15,1.85,1.7,1.5,1.25],
[146.36,3.0,3.2,3.4,3.6,3.8,4.0,4.2,4.5,4.8,5.0,1.6,1.2,.9,.75],
[146.41,3.2,3.4,3.6,3.8,4.0,4.2,4.4,4.7,4.9,5.1,5.3],
[146.46,3.0,3.2,3.4,3.7,3.9,4.1,4.3,4.6,4.8,5.0,5.2,5.4],
[146.51,3.1,3.3,3.5,3.8,4.0,4.2,4.5,4.8,5.0,5.2,5.4],
[146.56,3.2,3.4,3.6,3.9,4.1,4.4,4.7,4.9,5.1,5.3],
[146.59,3.2,3.6,4.0,4.3,5.0,5.2,1.95],
[146.98,2.9,3.1,3.3,3.5,3.7,3.9,4.1,4.3,5.8,.1,.05],
[147.02,2.9,3.0,3.2,3.4,3.6,3.8,4.0,4.2,4.5,4.9],
[147.06,2.95,3.1,3.3,3.5,3.7,3.9,4.1,4.3,4.6,5.1],
[147.1,3.0,3.2,3.4,3.6,3.8,4.0,4.2,4.7,4.9],
[147.14,2.9,3.1,3.3,3.6,3.8,4.0,4.3,4.5,4.8],
[147.18,3.1,3.3,3.4,3.7,3.9,4.1,4.9,5.1,5.3,.65,.45,.5,.85],
[147.23,3.3,3.5,3.8,4.0,4.2,5.0,5.2,5.4,5.6],
[147.27,3.4,3.6,3.8,4.1,4.4,4.7,4.9,5.1,5.3,5.5,5.7],
[147.32,3.4,3.6,3.9,4.2,4.6,4.8,5.0,5.2,5.4,5.8],
[147.36,3.7,4.0,4.3,4.5,4.7,4.9,5.1,5.3,5.5,.6,.5],
[147.4,3.9,4.2,4.4,4.7,4.9,5.1,5.2,5.4,.55,.2,.1],
[147.44,3.4,3.7,4.0,4.3,4.5,4.7,4.9,5.1,5.3],
[147.48,2.75,2.9,3.1,3.3,3.5,3.7,3.9,4.1,4.4,4.6,4.9,2.45,2.1],
[147.52,2.6,2.8,3.0,3.2,3.4,3.6,3.8,4.0,4.2,4.5,4.8,.1,.05,.2],
[147.57,2.8,3.0,3.2,3.4,3.6,3.8,4.0,4.2,4.6,2.45,2.1],
[147.61,2.65,3.1,3.3,3.5,3.7,3.9,4.2,5.1,5.3,5.5,5.8,2.7,2.65,1.55],
[147.66,2.7,3.0,3.3,3.6,3.9,4.2,5.0,5.3,5.6,6.0],
[147.99,2.85,3.0,3.2,3.4,3.6,3.8,4.0,4.2,4.4,2.65],
[148.03,2.95,3.1,3.3,3.5,3.7,3.9,4.1,4.4,4.8,4.9],
[148.07,2.9,3.1,3.2,3.4,3.6,3.8,4.0,4.2,4.6,4.7],
[148.11,2.95,3.1,3.3,3.5,3.7,3.9,4.1,4.4,4.9],
[148.15,2.9,3.0,3.2,3.4,3.6,3.8,4.0,4.2,4.6],
[148.19,3.0,3.3,3.6,3.8,4.0,4.3,4.6,.45,.5,.6,.7,.8,.9,1.0],
[148.24,.4,.45,.5,.6,.7,.8,.9,1.0,1.1,1.2],
[148.28,.4,.5,.6,.7,.8,.9,1.0,1.1,1.25],
[148.32,.4,.45,.55,.65,.75,.85,.95,1.05,1.15],
[148.36,.4,.5,.6,.7,.8,.9,1.0,1.1,1.2],
[148.41,.45,.55,.65,.75,.85,.95,1.05,1.2],
[148.46,.25,.75,.9,1.1,1.4,2.9,3.2,3.5,3.7,3.9,4.1,4.3,4.6,5.5,5.3],
[148.5,2.75,2.95,3.2,3.4,3.6,3.8,4.0,4.2,4.4,4.6,4.8,5.0],
[148.54,2.8,2.95,3.1,3.3,3.5,3.7,3.9,4.1,4.3,4.5,4.7,4.9,5.1,2.45],
[148.58,2.65,2.8,3.0,3.2,3.4,3.6,3.8,4.0,4.2,4.4,4.6,4.8,5.0,5.3],
[148.62,2.6,2.85,3.1,3.3,3.5,3.7,3.9,4.1,4.3,4.5,4.7,5.0,5.2,5.4,2.35,6.35],
[148.66,2.9,3.1,3.3,3.5,3.7,3.9,4.2,4.5,4.7,4.9,5.1,5.3,5.5,5.7,5.9,6.05],
[148.7,3.1,3.3,3.5,3.7,3.9,4.1,4.5,4.8,5.0,5.2,5.4,5.6,5.8,6.0],
[148.74,3.1,3.4,3.6,3.8,4.0,4.2,4.4,4.7,5.1,5.3,5.5,5.7,5.9],
[148.78,2.8,3.0,3.2,3.4,3.6,3.8,4.0,4.2,4.5,5.6,5.8,6.0,6.1,2.4,2.25,2.5],
[148.82,2.8,3.0,3.1,3.3,3.5,3.7,3.9,4.1,4.3,4.6,5.8,6.0,6.15],
[148.86,2.65,2.85,3.0,3.2,3.4,3.6,3.8,4.0,4.2,4.5,5.6,5.8,6.0,6.1],
[148.91,2.6,2.75,2.9,3.1,3.3,3.5,3.7,3.9,4.1,4.3,4.7,5.7,5.9,6.05],
[148.95,2.55,2.8,3.0,3.2,3.4,3.6,3.8,4.0,4.2,4.4,4.8,5.6,5.8,6.0,6.2],
[149.0,2.6,2.8,2.95,3.1,3.3,3.5,3.7,3.9,4.1,4.3,4.6,5.5,5.7,5.9],
[149.04,2.65,2.8,3.0,3.2,3.4,3.6,3.8,4.0,4.2,4.4,5.0,5.6,5.8,1.6,1.25,.85,1.4,.65],
[149.08,2.7,2.9,3.1,3.3,3.5,3.7,3.9,4.1,4.3,5.5,5.7,6.2],
];
const obs149 = [
[149.65,2.75,3.0,3.2,3.4,3.6,3.8,4.0,4.2,4.4,1.8,1.6,1.4,1.3],
[149.69,2.7,2.85,3.1,3.3,3.5,3.7,3.9,4.1,4.3,4.7,4.9,5.1,1.75],
[149.73,2.75,2.9,3.0,3.2,3.4,3.6,3.8,4.0,4.2,4.4,4.8,5.0],
[149.77,2.7,2.85,3.1,3.3,3.5,3.7,3.9,4.1,4.3,4.4,2.5,2.6],
[149.81,2.8,3.0,3.2,3.4,3.6,3.8,4.0,4.2,4.7,5.0,2.3,2.15],
[150.19,3.3,3.6,4.1,4.5,4.7,4.9,5.1,5.2,.75,.55],
[150.23,3.5,3.7,4.0,4.3,4.6,4.8,5.0,5.2,5.6],
[150.27,3.2,3.6,3.8,4.1,4.4,4.7,4.9,5.1,5.25,.05],
[150.32,3.4,3.7,3.9,4.2,4.5,4.8,5.0,5.2],
[150.36,3.5,3.8,4.1,4.4,4.7,4.9,5.1,5.25],
[150.41,3.4,3.7,4.0,4.2,4.5,4.8,5.0,5.2],
[150.45,3.3,3.6,3.9,4.4,4.9,5.2,5.25],
[150.63,2.85,3.0,3.2,3.4,3.6,3.8,4.0,4.3,4.6,4.8,5.0,2.2,2.0,1.8],
[150.67,2.85,2.95,3.1,3.3,3.5,3.7,3.9,4.1,4.3,4.5,4.7,5.2],
[150.71,2.85,3.0,3.2,3.4,3.6,3.8,4.0,4.2,4.4,4.6,4.8,5.4,5.1,2.7,2.6],
[150.75,2.85,3.0,3.1,3.3,3.5,3.7,3.9,4.1,4.3,4.5,4.7,5.1,5.4],
[150.79,2.9,3.1,3.3,3.5,3.7,3.9,4.1,4.3,4.5,4.7],
[150.83,2.95,3.1,3.3,3.5,3.7,3.9,4.1,4.3,4.6,5.1],
[150.87,3.1,3.4,3.7,4.0,4.3,2.6,2.4,2.25,2.1,1.95],
[151.21,2.8,3.0,3.2,3.4,3.6,3.8,4.0,4.2,4.5,4.8,5.0,2.5],
[151.25,2.85,3.0,3.1,3.3,3.5,3.7,3.9,4.1,4.3,4.6,4.8],
[151.29,2.9,3.1,3.3,3.5,3.7,3.9,4.1,4.3,4.5,4.7,2.05,1.8,1.7,1.2,1.1],
[151.33,2.95,3.1,3.3,3.4,3.6,3.8,4.0,4.2,4.4,4.6,5.2,1.4],
[151.37,3.0,3.2,3.4,3.6,3.8,4.0,4.2,4.4,4.7,5.0,5.3,5.6,7.1,7.2],
[151.41,3.1,3.4,3.6,3.8,4.0,4.3,4.6,4.9,5.2,5.4,5.6,6.9,7.0,7.3,7.4],
[151.45,2.7,3.0,3.3,3.5,3.7,3.9,4.2,4.5,4.8,5.1,5.3,5.6,7.0,7.2,7.5,7.6,7.75],
[151.49,2.7,3.1,3.4,3.8,4.1,4.4,4.7,5.0,5.3,5.6,5.65,7.15,7.35,7.7,7.8],
[151.66,2.7,3.0,3.2,3.4,3.6,3.8,4.0,4.2,4.4,4.7,4.9,5.1,2.05],
[151.7,2.85,3.1,3.3,3.5,3.7,3.9,4.1,4.3,4.6,4.8,5.0,5.2],
[151.74,2.85,3.0,3.2,3.4,3.6,3.8,4.0,4.2,4.5,4.7,4.9,5.1,5.2],
[151.78,2.85,3.0,3.1,3.3,3.5,3.7,3.9,4.1,4.3,4.6,4.8,5.0,5.2],
[151.82,2.9,3.1,3.3,3.5,3.7,3.9,4.1,4.3,4.5,4.9,5.1,5.25],
[151.86,3.1,3.4,3.7,4.0,4.4,4.8,5.1,5.3,.5,.4,.35,.25],
[151.9,3.4,3.7,4.1,4.6,5.0,5.3],
];
// second read of the densest stretches, between the rows above
const obsDense = [
[121.07,2.95,3.25,3.55,3.85],[121.16,2.9,3.15,3.45,3.75,4.05],[123.31,2.85,3.2,3.55,3.85,4.15,4.4],[123.4,2.8,3.1,3.45,3.8,4.2],
[123.48,2.9,3.25,3.65,3.95,4.35],[123.56,2.9,3.25,3.6,3.95,4.25],[125.2,2.9,3.2,3.6,4.0,4.4],[125.25,3.05,3.4,3.8,4.15,4.5],
[125.3,2.85,3.2,3.6,4.0,4.3],[125.35,2.95,3.4,3.8,4.2],[125.39,3.1,3.5,3.9,4.2],[125.95,2.9,3.3,3.7,4.1,4.3],
[126.0,2.95,3.25,3.65,3.95,4.35],[126.04,2.85,3.2,3.6,4.0,4.4],[126.09,3.05,3.3,3.7,3.9,4.1],[126.14,2.95,3.3,3.65,4.05],
[126.18,2.85,3.1,3.6,4.0],[126.74,2.95,3.25,3.55,3.95,4.25],[126.78,2.85,3.2,3.6,4.0,4.4],[126.82,3.05,3.3,3.7,4.1,4.3],
[126.86,2.95,3.2,3.55,3.9,4.25],[126.9,2.7,3.0,3.35,3.7,4.1],[126.94,2.9,3.3,3.7,4.1,4.3],[126.98,2.8,3.2,3.6,4.0,4.4],
[127.02,3.05,3.5,3.8,4.1],[127.78,3.05,3.4,3.8,4.2,4.5],[127.84,3.0,3.3,3.7,4.1],[127.89,3.0,3.35,3.75,4.15,4.4],
[127.94,2.95,3.3,3.7,4.1,4.5],[127.99,3.05,3.4,3.8,4.2],[129.02,5.6,6.0,6.4,6.8,7.2,7.6,8.0,8.6],[129.26,5.6,6.1,6.5,7.1,7.7,8.3,8.9],
[129.3,5.7,6.4,6.8,7.3,7.9,8.5,9.0],[129.38,5.4,5.9,6.3,6.8,7.4,8.0,8.5],[129.85,6.3,6.8,7.2,7.7,8.2,8.7,9.2],[130.45,5.0,5.4,6.0,6.7,7.3,7.9,8.4],
[130.49,4.6,5.2,5.9,6.5,7.1,7.6,8.1,8.8],[130.53,5.1,5.7,6.3,6.9,7.5,8.1],[132.67,2.9,3.2,3.6,4.0,4.2,4.6],[132.72,3.0,3.4,3.8,4.0,4.4,4.8],
[132.77,2.9,3.3,3.7,4.1,4.5,5.1],[132.82,3.0,3.4,3.8,4.2,4.6],[132.87,2.9,3.3,3.7,4.1,4.6],[134.62,2.7,2.9,3.2,3.6,3.8],
[134.67,2.55,2.8,3.2,3.6,4.0],[134.71,2.7,3.0,3.4,3.8],[134.75,2.85,3.1,3.5,3.9],[134.83,2.9,3.3,3.7,4.1],
[134.87,2.9,3.2,3.6,3.8],[134.91,3.0,3.4,3.8],[135.03,3.3,3.7,3.9,4.1],[135.12,3.1,3.5,3.9,4.2],
[135.2,3.1,3.5,3.9],[135.28,2.95,3.4,3.8,4.1],[135.37,2.85,3.2,3.6,3.9],[135.47,2.95,3.4,3.9,4.3],
[137.81,2.8,3.0,3.4,3.8,4.2],[137.85,2.75,3.1,3.5,3.9],[137.89,2.7,3.0,3.4,3.8,4.2],[137.93,2.6,3.0,3.4,3.8],
[137.97,2.7,2.9,3.3,3.7,4.1],[138.01,2.6,2.9,3.2,3.6,4.0],[138.05,2.5,2.8,3.2,3.6],[138.09,2.75,3.1,3.5,3.9],
[138.13,2.9,3.3,3.7,4.1],[140.03,2.8,3.2,3.6,4.0],[140.07,2.9,3.2,3.6,4.0],[140.11,2.7,3.0,3.4,3.8],
[140.15,2.85,3.2,3.6,4.0],[140.19,2.75,3.1,3.5,3.9],[140.23,2.7,3.2,3.6,4.0],[140.55,2.8,3.1,3.5,3.9,4.1],
[140.59,2.75,3.1,3.5,3.9],[140.63,2.8,3.2,3.6,4.0],[142.09,2.9,3.2,3.6,4.0,4.2],[142.14,2.85,3.2,3.6,4.0],
[142.19,2.9,3.2,3.6,3.9,4.3],[142.24,2.9,3.3,3.7,4.1],[145.06,2.75,3.1,3.5,3.9,4.3],[145.1,2.7,2.9,3.2,3.6,4.0,4.4],
[145.15,2.6,2.8,3.1,3.5,3.9,4.3],[145.2,2.6,2.9,3.3,3.7,4.1,4.5],[145.25,2.5,2.9,3.2,3.6,4.0,4.4],[145.29,2.6,3.0,3.4,3.8,4.2],
[145.33,2.7,2.9,3.3,3.7,4.1,4.5],[145.37,2.7,3.0,3.5,3.9,4.3],[145.41,2.7,3.2,3.6,4.0,4.4],[145.45,2.8,3.0,3.4,3.8,4.2],
[145.49,2.9,3.3,3.7,4.1,4.3],[148.84,2.75,3.1,3.5,3.9,4.3],[148.88,2.7,3.1,3.5,3.9,4.4],[148.93,2.7,3.0,3.4,3.8,4.2],
[148.97,2.65,2.9,3.3,3.7,4.1],[149.02,2.7,3.0,3.4,3.8,4.2],[149.06,2.75,3.1,3.5,3.9,4.3],[149.71,2.9,3.2,3.6,4.0],
[149.75,2.8,3.1,3.5,3.9,4.3],[149.79,2.95,3.2,3.6,4.0,4.2],[150.69,2.9,3.2,3.6,4.0,4.4],[150.73,2.95,3.3,3.7,4.1,4.5],
[150.77,2.95,3.2,3.6,4.0,4.4],[150.81,3.0,3.4,3.8,4.2],[151.27,2.95,3.2,3.6,4.0,4.4],[151.31,3.0,3.4,3.8,4.2],
[151.72,2.95,3.2,3.6,4.0,4.4],[151.76,2.95,3.3,3.7,4.1,4.6],[151.8,3.0,3.4,3.8,4.2,4.7],
];

const fitTime = [119.45, 153.52];
const fitRate = [4.5, 4.197];
const xTicks = [120, 125, 130, 135, 140, 145, 150];
const yTicks = [0, 2, 4, 6, 8, 10];
const legendLabel = 'Total SIB Slope: -0.0089';

const allRows = [obs121, obs123, obs124, obs127, obs128, obs130, obs134, obs136, obs140, obs143, obs146, obs149, obsDense].flat();
const sibPoints = allRows.flatMap(row => row.slice(1).map(rate => ({ x: row[0], y: rate })));
const fitPoints = fitTime.map((t, i) => ({ x: t, y: fitRate[i] }));

const font = 'DejaVu Sans';

// matplotlib style frame and legend box
const framePlugin = {
    id: 'frame',
    afterDraw(chart) {
        const { ctx, chartArea: a } = chart;
        ctx.save();
        ctx.strokeStyle = '#000';
        ctx.lineWidth = 2;
        ctx.strokeRect(a.left, a.top, a.right - a.left, a.bottom - a.top);

        ctx.strokeStyle = '#e3e3e3';
        ctx.fillStyle = 'rgba(255,255,255,0.8)';
        ctx.lineWidth = 2.5;
        ctx.beginPath();
        ctx.roundRect(264, 63.5, 387, 43, 4);
        ctx.fill();
        ctx.stroke();

        ctx.fillStyle = '#0000ff';
        ctx.beginPath();
        ctx.arc(298.3, 83.3, 2.1, 0, Math.PI * 2);
        ctx.fill();

        ctx.fillStyle = '#000';
        ctx.font = '25px "' + font + '"';
        ctx.textBaseline = 'alphabetic';
        ctx.fillText(legendLabel, 342, 91);
        ctx.restore();
    },
};

new Chart(document.getElementById('sibChart'), {
    type: 'scatter',
    data: {
        datasets: [
            {
                label: 'fit',
                data: fitPoints,
                showLine: true,
                borderColor: '#ff0000',
                borderWidth: 2.8,
                pointRadius: 0,
                order: 0,
            },
            {
                label: legendLabel,
                data: sibPoints,
                backgroundColor: '#0000ff',
                borderWidth: 0,
                pointRadius: 2.1,
                order: 1,
            },
        ],
    },
    options: {
        responsive: false,
        animation: false,
        layout: { padding: { top: 50, right: 200, left: 0, bottom: 0 } },
        plugins: {
            legend: { display: false },
            tooltip: { enabled: false },
        },
        scales: {
            x: {
                type: 'linear',
                min: fitTime[0],
                max: fitTime[1],
                afterBuildTicks: (axis) => { axis.ticks = xTicks.map(v => ({ value: v })); },
                afterFit: (axis) => { axis.height = 46; },
                border: { display: false },
                grid: { drawOnChartArea: false, color: '#000', lineWidth: 2, tickLength: 10 },
                ticks: { color: '#000', padding: 5, maxRotation: 0, autoSkip: false, font: { family: font, size: 22 } },
            },
            y: {
                min: 0,
                max: 11.47,
                afterBuildTicks: (axis) => { axis.ticks = yTicks.map(v => ({ value: v })); },
                afterFit: (axis) => { axis.width = 250; },
                border: { display: false },
                grid: { drawOnChartArea: false, color: '#000', lineWidth: 2, tickLength: 10 },
                // blank first line nudges the digits down to where the reference has them
                ticks: {
                    color: '#000', padding: 6, autoSkip: false,
                    callback: (v) => ['', String(v)],
                    font: { family: font, size: 22, lineHeight: 0.18 },
                },
                title: { display: true, text: 'cnts/s', color: '#000', padding: { top: 164, bottom: 0 }, font: { family: font, size: 22 } },
            },
        },
    },
    plugins: [framePlugin],
});
</script>
</body>
</html>
